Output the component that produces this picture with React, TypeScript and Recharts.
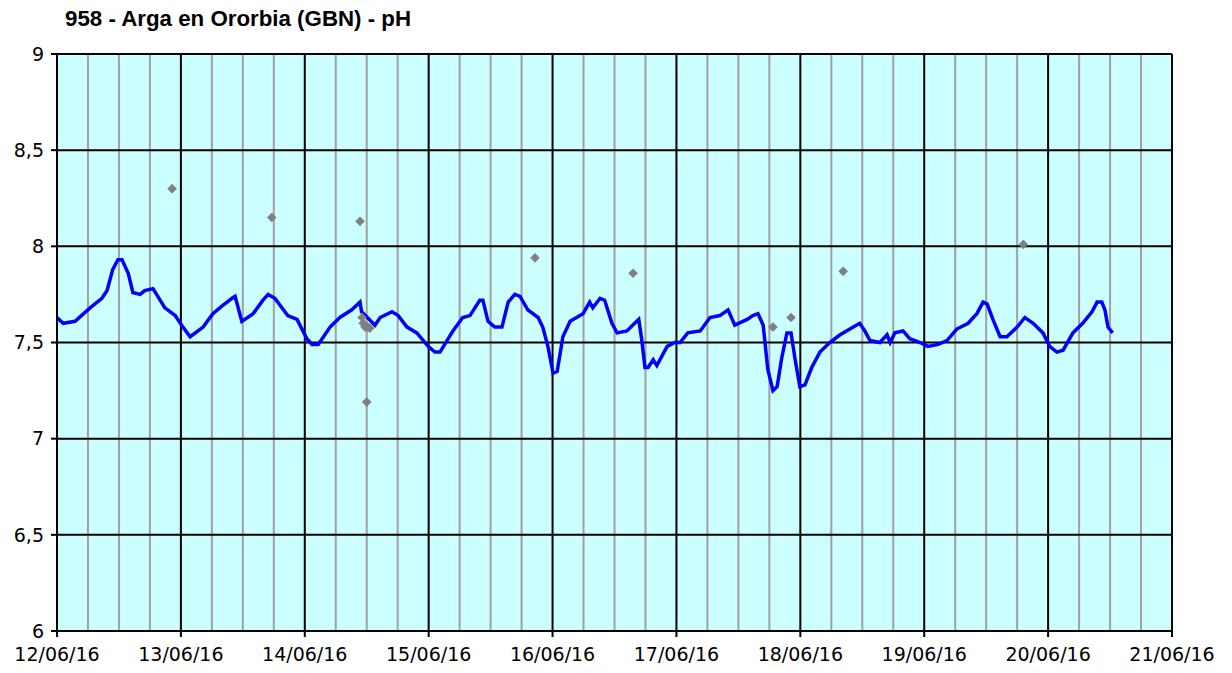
import React from 'react';
import { ComposedChart, Line, Scatter, XAxis, YAxis, CartesianGrid } from 'recharts';

const titleText = '958 - Arga en Ororbia (GBN) - pH';
const dayLabels = ['12/06/16', '13/06/16', '14/06/16', '15/06/16', '16/06/16', '17/06/16', '18/06/16', '19/06/16', '20/06/16', '21/06/16'];
const dayTicks = [0, 24, 48, 72, 96, 120, 144, 168, 192, 216];
const quarterTicks = [6, 12, 18, 30, 36, 42, 54, 60, 66, 78, 84, 90, 102, 108, 114, 126, 132, 138, 150, 156, 162, 174, 180, 186, 198, 204, 210, 216];
const yTicks = [6, 6.5, 7, 7.5, 8, 8.5, 9];

const lineHours = [0, 1.2, 3.5, 6.4, 8.7, 9.7, 10.8, 11.8, 12.6, 13.8, 14.7, 16.1, 17.0, 18.6, 20.9, 22.9, 24.4, 25.8, 28.3, 30.2, 32.0, 33.9, 34.5, 35.8, 38.0, 39.9, 40.9, 42.2, 44.7, 46.5, 48.4, 49.4, 50.6, 52.9, 54.8, 57.1, 58.7, 59.0, 61.6, 62.6, 64.9, 66.1, 67.8, 69.7, 71.9, 73.2, 74.2, 76.7, 78.6, 80.0, 81.9, 82.5, 83.5, 84.8, 86.2, 87.4, 88.7, 89.7, 91.2, 93.2, 94.1, 95.1, 96.1, 96.9, 98.0, 99.4, 101.9, 103.2, 103.8, 105.2, 106.1, 107.5, 108.5, 110.4, 112.3, 112.7, 113.3, 113.9, 114.5, 115.5, 116.2, 118.2, 119.7, 120.7, 122.2, 124.6, 126.5, 128.4, 130.0, 131.3, 133.7, 134.8, 135.8, 136.8, 137.7, 138.7, 139.5, 140.4, 141.4, 142.2, 143.0, 143.9, 144.9, 146.2, 147.8, 149.7, 151.7, 153.6, 155.5, 156.5, 157.5, 159.4, 160.8, 161.4, 162.3, 163.9, 165.2, 167.2, 168.7, 170.7, 172.4, 174.3, 176.5, 178.2, 179.4, 180.2, 181.3, 182.7, 184.0, 186.0, 187.5, 189.1, 191.0, 192.3, 193.7, 194.9, 196.8, 198.7, 200.5, 201.5, 202.4, 203.0, 203.6, 204.5];
const linePh = [7.63, 7.60, 7.61, 7.68, 7.73, 7.77, 7.88, 7.93, 7.93, 7.86, 7.76, 7.75, 7.77, 7.78, 7.68, 7.64, 7.58, 7.53, 7.58, 7.65, 7.69, 7.73, 7.74, 7.61, 7.65, 7.72, 7.75, 7.73, 7.64, 7.62, 7.52, 7.49, 7.49, 7.58, 7.63, 7.67, 7.71, 7.66, 7.59, 7.63, 7.66, 7.64, 7.58, 7.55, 7.48, 7.45, 7.45, 7.56, 7.63, 7.64, 7.72, 7.72, 7.61, 7.58, 7.58, 7.71, 7.75, 7.74, 7.67, 7.63, 7.58, 7.48, 7.34, 7.35, 7.53, 7.61, 7.65, 7.71, 7.68, 7.73, 7.72, 7.60, 7.55, 7.56, 7.61, 7.62, 7.51, 7.37, 7.37, 7.41, 7.38, 7.48, 7.50, 7.50, 7.55, 7.56, 7.63, 7.64, 7.67, 7.59, 7.62, 7.64, 7.65, 7.59, 7.36, 7.25, 7.27, 7.42, 7.55, 7.55, 7.41, 7.27, 7.28, 7.37, 7.45, 7.50, 7.54, 7.57, 7.60, 7.56, 7.51, 7.50, 7.54, 7.50, 7.55, 7.56, 7.52, 7.50, 7.48, 7.49, 7.51, 7.57, 7.60, 7.65, 7.71, 7.70, 7.62, 7.53, 7.53, 7.58, 7.63, 7.60, 7.55, 7.48, 7.45, 7.46, 7.55, 7.60, 7.66, 7.71, 7.71, 7.67, 7.58, 7.55];

const sampleHours = [22.3, 41.6, 58.7, 59.1, 59.3, 59.7, 60.2, 60.6, 60.0, 92.6, 111.6, 138.7, 142.2, 152.3, 187.2];
const samplePh = [8.30, 8.15, 8.13, 7.63, 7.60, 7.58, 7.58, 7.575, 7.19, 7.94, 7.86, 7.58, 7.63, 7.87, 8.01];

const lineData = lineHours.map((h, i) => ({ h, v: linePh[i] }));
const sampleData = sampleHours.map((h, i) => ({ h, v: samplePh[i] }));

const tickFont = { fontFamily: 'DejaVu Sans', fontSize: 19, fill: '#000' };

const Diamond = (props: any) => {
  const { cx, cy } = props;
  if (cx == null || cy == null) return null;
  const r = 4.8;
  return <polygon points={`${cx},${cy - r} ${cx + r},${cy} ${cx},${cy + r} ${cx - r},${cy}`} fill="#808080" />;
};

export default function App() {
  return (
    <div style={{ position: 'relative', width: 1216, height: 660 }}>
      <div
        style={{
          position: 'absolute',
          left: 57,
          top: 0,
          fontFamily: 'Liberation Sans, Arial, sans-serif',
          fontWeight: 'bold',
          fontSize: 22.3,
          lineHeight: '22px',
          color: '#000',
          whiteSpace: 'nowrap',
        }}
      >
        {titleText}
      </div>
      <ComposedChart width={1216} height={660} margin={{ top: 46, right: 52, left: 0, bottom: 0 }}>
        <CartesianGrid
          fill="#CCFFFF"
          horizontal={false}
          vertical
          verticalValues={quarterTicks}
          stroke="#A0A0A0"
          strokeWidth={2}
        />
        <CartesianGrid
          horizontal
          vertical
          verticalValues={dayTicks}
          horizontalValues={yTicks}
          stroke="#000"
          strokeWidth={2}
        />
        <XAxis
          type="number"
          dataKey="h"
          domain={[0, 216]}
          ticks={dayTicks}
          tickFormatter={(v: number) => dayLabels[dayTicks.indexOf(v)] ?? ''}
          tick={tickFont}
          tickSize={6}
          tickMargin={11}
          height={37}
          stroke="#000"
          strokeWidth={2}
          interval={0}
          allowDataOverflow
        />
        <YAxis
          type="number"
          dataKey="v"
          domain={[6, 9]}
          ticks={yTicks}
          tickFormatter={(v: number) => String(v).replace('.', ',')}
          tick={tickFont}
          tickSize={6}
          tickMargin={7}
          width={49}
          stroke="#000"
          strokeWidth={2}
          interval={0}
          allowDataOverflow
        />
        <Line
          data={lineData}
          dataKey="v"
          type="linear"
          stroke="#0000FF"
          strokeWidth={3.5}
          dot={false}
          activeDot={false}
          isAnimationActive={false}
        />
        <Scatter data={sampleData} dataKey="v" shape={<Diamond />} isAnimationActive={false} />
      </ComposedChart>
    </div>
  );
}
